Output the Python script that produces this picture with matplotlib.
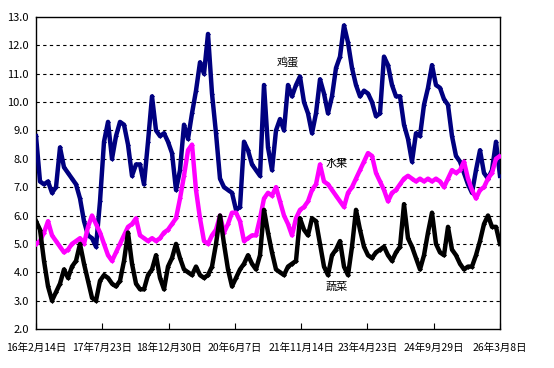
import numpy as np
import matplotlib
matplotlib.use('Agg')
from matplotlib import pyplot as plt

plt.rcParams['font.family'] = ['Noto Sans CJK SC', 'DejaVu Sans']

# tick labels along the x axis (every 525 days)
tick_labels = ['16年2月14日', '17年7月23日', '18年12月30日', '20年6月7日',
               '21年11月14日', '23年4月23日', '24年9月29日', '26年3月8日']

# prices, evenly spaced over 2016-02-14 .. 2026-03-08
eggs = [8.8, 7.2, 7.1, 7.2, 6.8, 7.0, 8.4, 7.7, 7.5, 7.3, 7.1, 6.6, 5.8, 5.3, 5.2, 4.9,
        6.5, 8.6, 9.3, 8.0, 8.8, 9.3, 9.2, 8.5, 7.4, 7.8, 7.8, 7.1, 8.6, 10.2, 9.0, 8.8,
        8.9, 8.6, 8.2, 6.9, 7.6, 9.2, 8.7, 9.6, 10.4, 11.4, 11.0, 12.4, 10.3, 8.9, 7.3, 7.0,
        6.9, 6.8, 6.2, 6.3, 8.6, 8.3, 7.8, 7.6, 7.4, 10.6, 8.4, 7.6, 9.0, 9.4, 9.0, 10.6,
        10.2, 10.6, 10.9, 10.0, 9.6, 8.9, 9.6, 10.8, 10.3, 9.6, 10.2, 11.2, 11.6, 12.7, 12.1, 11.2,
        10.6, 10.2, 10.4, 10.3, 10.0, 9.5, 9.6, 11.6, 11.3, 10.6, 10.2, 10.2, 9.2, 8.7, 7.9, 8.9,
        8.8, 9.9, 10.5, 11.3, 10.6, 10.5, 10.1, 9.9, 8.8, 8.1, 7.9, 7.5, 7.1, 6.8, 7.6, 8.3,
        7.5, 7.3, 7.6, 8.6, 7.4]
fruit = [5.0, 5.1, 5.4, 5.8, 5.3, 5.1, 4.9, 4.7, 4.8, 5.0, 5.1, 5.2, 5.0, 5.6, 6.0, 5.7,
         5.4, 5.0, 4.6, 4.4, 4.7, 5.0, 5.3, 5.6, 5.7, 5.9, 5.3, 5.2, 5.1, 5.2, 5.1, 5.2,
         5.4, 5.5, 5.7, 5.9, 6.6, 7.4, 8.3, 8.5, 6.9, 5.9, 5.1, 5.0, 5.3, 5.5, 6.0, 5.4,
         5.7, 6.1, 6.1, 5.8, 5.1, 5.2, 5.3, 5.3, 5.9, 6.6, 6.8, 6.7, 7.0, 6.5, 6.0, 5.7,
         5.3, 5.9, 6.2, 6.3, 6.5, 6.9, 7.1, 7.8, 7.2, 7.1, 6.9, 6.7, 6.5, 6.3, 6.8, 7.0,
         7.3, 7.6, 7.9, 8.2, 8.1, 7.5, 7.2, 6.9, 6.5, 6.8, 6.9, 7.1, 7.3, 7.4, 7.3, 7.2,
         7.3, 7.2, 7.3, 7.2, 7.3, 7.2, 7.0, 7.3, 7.6, 7.5, 7.6, 7.9, 7.3, 6.9, 6.6, 6.9,
         7.0, 7.3, 7.5, 8.0, 8.1]
vegetables = [5.8, 5.5, 4.4, 3.5, 3.0, 3.3, 3.6, 4.1, 3.8, 4.2, 4.4, 5.0, 4.3, 3.7, 3.1, 3.0,
              3.7, 3.9, 3.8, 3.6, 3.5, 3.7, 4.4, 5.4, 4.3, 3.6, 3.4, 3.4, 3.9, 4.1, 4.6, 3.8,
              3.4, 4.2, 4.5, 5.0, 4.5, 4.1, 4.0, 3.9, 4.2, 3.9, 3.8, 3.9, 4.2, 5.0, 6.0, 5.0,
              4.1, 3.5, 3.8, 4.1, 4.3, 4.6, 4.3, 4.1, 4.6, 6.2, 5.4, 4.7, 4.1, 4.0, 3.9, 4.2,
              4.3, 4.4, 5.9, 5.5, 5.3, 5.9, 5.8, 5.0, 4.2, 3.9, 4.6, 4.8, 5.1, 4.2, 3.9, 4.9,
              6.2, 5.5, 4.9, 4.6, 4.5, 4.7, 4.8, 4.9, 4.6, 4.4, 4.7, 4.9, 6.4, 5.2, 4.9, 4.5,
              4.1, 4.6, 5.4, 6.1, 5.0, 4.7, 4.6, 5.6, 4.8, 4.6, 4.3, 4.1, 4.2, 4.2, 4.6, 5.1,
              5.7, 6.0, 5.6, 5.6, 5.0]

total_days = 3675
tick_step = 525

fig = plt.figure(figsize=(5.54, 3.68), dpi=100)
ax = fig.add_axes([0.065, 0.106, 0.8375, 0.848])

series = [(eggs, '#000080'), (fruit, '#ff00ff'), (vegetables, '#000000')]
for vals, col in series:
    x = np.linspace(0, total_days, len(vals))
    ax.plot(x, vals, color=col, lw=3.2, marker='D', ms=2.5, mew=0,
            solid_joinstyle='round', zorder=3)

ax.set_xlim(0, total_days)
ax.set_ylim(2, 13)
ax.set_yticks(np.arange(2, 13.5, 1))
ax.set_yticklabels(['%.1f' % v for v in np.arange(2, 13.5, 1)], fontsize=8)
ax.set_xticks(np.arange(0, total_days + 1, tick_step))
ax.set_xticklabels(tick_labels, fontsize=7.5)
ax.tick_params(axis='y', length=0, pad=5)
ax.tick_params(axis='x', direction='in', length=4, pad=10)

for yv in range(3, 13):
    ax.axhline(yv, color='black', lw=0.8, ls=(0, (3, 3)), zorder=1)

for sp in ax.spines.values():
    sp.set_linewidth(1.0)
    sp.set_color('black')

ax.text(1996, 11.4, '鸡蛋', fontsize=8, ha='center', va='center', zorder=4)
ax.text(2384, 7.8, '水果', fontsize=8, ha='center', va='center', zorder=4)
ax.text(2384, 3.5, '蔬菜', fontsize=8, ha='center', va='center', zorder=4)

plt.savefig('out.png', dpi=100)
plt.close()
